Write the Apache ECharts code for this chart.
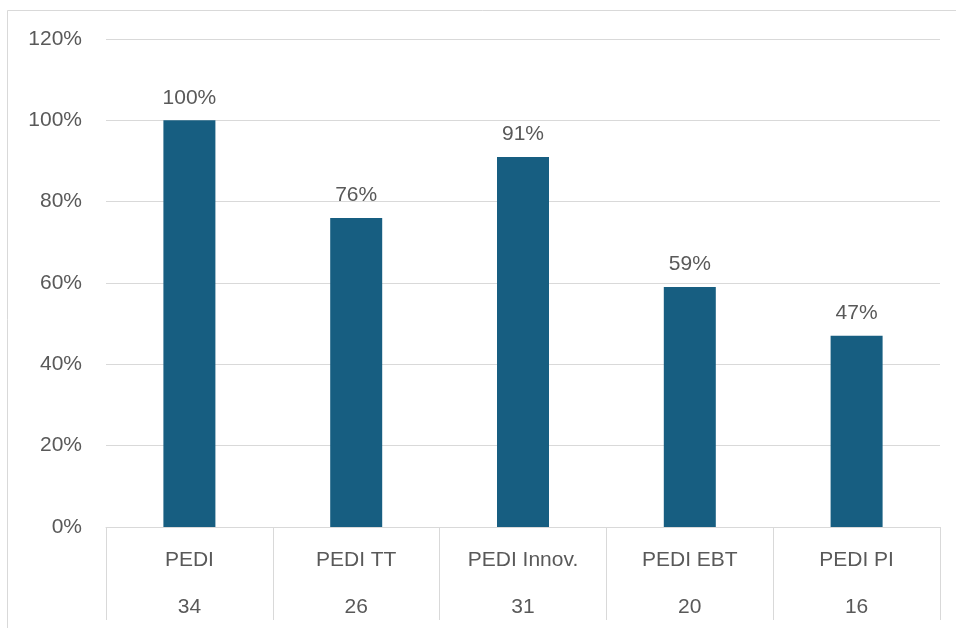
<!DOCTYPE html>
<html>
<head>
<meta charset="utf-8">
<title>PEDI</title>
<script src="https://cdn.jsdelivr.net/npm/echarts@6/dist/echarts.min.js"></script>
<style>
  html, body { margin: 0; padding: 0; background: #ffffff; }
  #chart { width: 956px; height: 628px; }
</style>
</head>
<body>
<div id="chart"></div>
<script>
// Programme names and participant counts shown under each bar
const categories = ['PEDI', 'PEDI TT', 'PEDI Innov.', 'PEDI EBT', 'PEDI PI'];
const counts = [34, 26, 31, 20, 16];
// Share of participants per programme, in percent
const shares = [100, 76, 91, 59, 47];
// Value axis ticks
const yTicks = [0, 20, 40, 60, 80, 100, 120];

const FONT = '"Liberation Sans", Arial, sans-serif';
const TEXT = '#595959';
const LINE = '#d9d9d9';
const BAR = '#175E81';

const chart = echarts.init(document.getElementById('chart'), null, { renderer: 'canvas' });

chart.setOption({
  backgroundColor: '#ffffff',
  animation: false,
  graphic: [{
    type: 'rect',
    shape: { x: 7.5, y: 10.5, width: 1200, height: 1200 },
    style: { fill: 'none', stroke: LINE, lineWidth: 1 },
    silent: true,
    z: -1
  }],
  grid: {
    left: 106, right: 16, top: 39, bottom: 101,
    containLabel: false,
    outerBoundsMode: 'none'
  },
  xAxis: {
    type: 'category',
    data: categories,
    boundaryGap: true,
    axisLine: { show: true, lineStyle: { color: LINE, width: 1 } },
    axisTick: { show: true, length: 93, lineStyle: { color: LINE, width: 1 } },
    axisLabel: {
      interval: 0,
      margin: 10,
      lineHeight: 47,
      fontFamily: FONT,
      fontSize: 21,
      color: TEXT,
      formatter: function (value, idx) {
        return value + '\n' + counts[idx];
      }
    },
    splitLine: { show: false }
  },
  yAxis: {
    type: 'value',
    min: yTicks[0],
    max: yTicks[yTicks.length - 1],
    interval: yTicks[1] - yTicks[0],
    axisLine: { show: false },
    axisTick: { show: false },
    axisLabel: {
      margin: 24,
      fontFamily: FONT,
      fontSize: 21,
      color: TEXT,
      padding: [2, 0, 0, 0],
      formatter: function (v) { return v + '%'; }
    },
    splitLine: { show: true, lineStyle: { color: LINE, width: 1 } }
  },
  series: [{
    type: 'bar',
    data: shares,
    barWidth: 52,
    itemStyle: { color: BAR },
    label: {
      show: true,
      position: 'top',
      distance: 12,
      fontFamily: FONT,
      fontSize: 21,
      color: TEXT,
      formatter: function (p) { return p.value + '%'; }
    }
  }]
});
</script>
</body>
</html>
